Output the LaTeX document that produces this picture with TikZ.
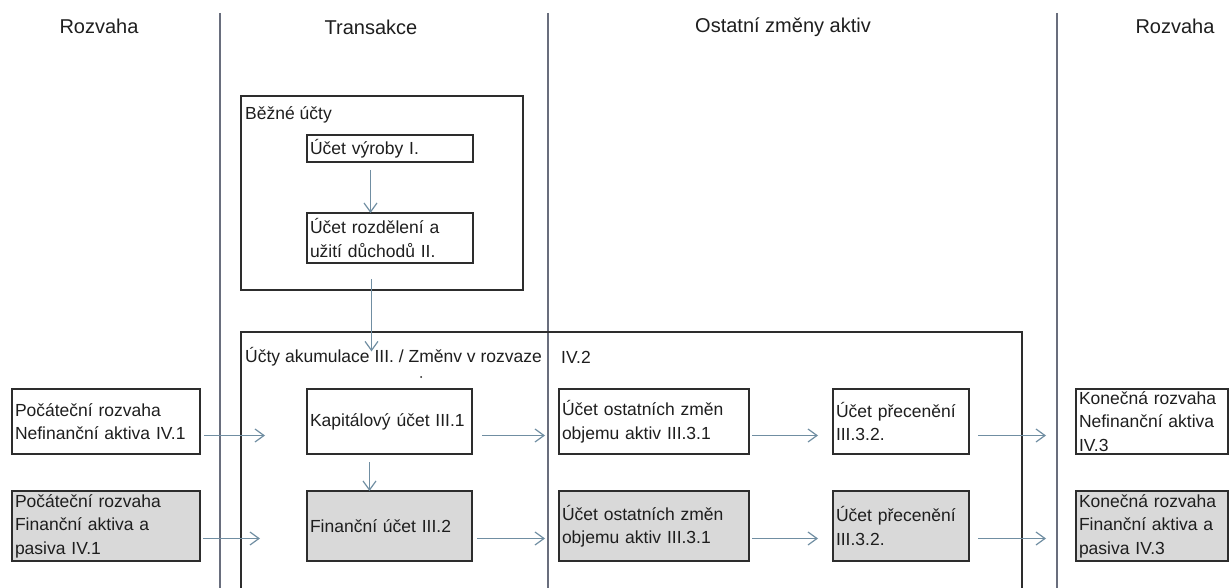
\documentclass[tikz,border=0pt]{standalone}
\usepackage{fontspec}
\setmainfont{Liberation Sans}
\usetikzlibrary{arrows.meta,positioning}
\definecolor{framegray}{RGB}{45,45,45}
\definecolor{fingray}{RGB}{217,217,217}
\definecolor{flowblue}{RGB}{112,142,162}
\definecolor{colgray}{RGB}{105,110,125}
\definecolor{textgray}{RGB}{30,30,30}
\newcommand{\boxfont}{\fontsize{17.5}{23.5}\selectfont}
\newcommand{\headfont}{\fontsize{20}{24}\selectfont}

\begin{document}
\begin{tikzpicture}[
    x=1pt, y=1pt,
    head/.style={font=\headfont, text=textgray, inner sep=0pt},
    frametitle/.style={font=\boxfont, text=textgray, inner sep=0pt, anchor=west},
    account/.style={rectangle, draw=framegray, line width=1.3pt, outer sep=0pt, font=\boxfont, text=textgray, align=left, inner xsep=3pt, inner ysep=0pt, minimum height=65pt},
    financial/.style={account, fill=fingray, minimum height=70pt},
    container/.style={rectangle, draw=framegray, line width=1.3pt, outer sep=0pt},
    flow/.style={-{Straight Barb[length=9pt,width=13pt]}, draw=flowblue, line width=1.2pt},
    column/.style={draw=colgray, line width=1.5pt}
]
\useasboundingbox (0,0) rectangle (1229,-588);

% Column headings
\node[head] (leftrozvaha) at (99,-26) {Rozvaha};
\node[head] (transakce) at (371,-27) {Transakce};
\node[head] (ostatni) at (783,-27) {Ostatní změny aktiv};
\node[head] (rightrozvaha) at (1175,-26) {Rozvaha};

% Column separators
\draw[column] (220,-13) -- (220,-588);
\draw[column] (548,-13) -- (548,-588);
\draw[column] (1057,-13) -- (1057,-588);

% Current accounts
\node[container, minimum width=282pt, minimum height=194pt] (bezne) at (382,-193) {};
\node[frametitle] (beznetitle) at (245,-115) {Běžné účty};
\node[account, text width=160pt, minimum height=27pt] (vyroby) at (390,-148.5) {Účet výroby I.};
\node[account, text width=160pt, minimum height=50pt, below=51pt of vyroby] (rozdeleni) {Účet rozdělení a\\užití důchodů II.};

% Accumulation accounts
\node[container, minimum width=781pt, minimum height=290pt, anchor=north west] (akumulace) at (241,-332) {};
\node[frametitle] (akumtitle) at (245,-357) {Účty akumulace III. / Změnv v rozvaze};
\node[frametitle] (akumiv) at (561,-357) {IV.2};
\fill[textgray] (421,-377) circle (1pt);

% Non-financial row
\node[account, text width=182pt] (pocNef) at (106,-421.5) {Počáteční rozvaha\\Nefinanční aktiva IV.1};
\node[account, text width=159pt, right=107pt of pocNef] (kapital) {Kapitálový účet III.1};
\node[account, text width=184pt, right=87pt of kapital] (ostNef) {Účet ostatních změn\\objemu aktiv III.3.1};
\node[account, text width=130pt, right=84pt of ostNef] (precNef) {Účet přecenění\\III.3.2.};
\node[account, text width=146pt, right=107pt of precNef] (konNef) {Konečná rozvaha\\Nefinanční aktiva\\IV.3};

% Financial row
\node[financial, text width=182pt, below=37pt of pocNef] (pocFin) {Počáteční rozvaha\\Finanční aktiva a\\pasiva IV.1};
\node[financial, text width=159pt, below=37pt of kapital] (financni) {Finanční účet III.2};
\node[financial, text width=184pt, below=37pt of ostNef] (ostFin) {Účet ostatních změn\\objemu aktiv III.3.1};
\node[financial, text width=130pt, below=37pt of precNef] (precFin) {Účet přecenění\\III.3.2.};
\node[financial, text width=146pt, below=37pt of konNef] (konFin) {Konečná rozvaha\\Finanční aktiva a\\pasiva IV.3};

% Vertical flows
\draw[flow, shorten <=8pt] ([xshift=-19.5pt]vyroby.south) -- ([xshift=-19.5pt]rozdeleni.north);
\draw[flow, shorten <=16pt, shorten >=-4pt] ([xshift=-18.5pt]rozdeleni.south) -- ([xshift=-18.5pt]rozdeleni.south |- akumtitle.north);
\draw[flow, shorten <=8pt] ([xshift=-20pt]kapital.south) -- ([xshift=-20pt]financni.north);

% Horizontal flows
\draw[flow, shorten <=4pt, shorten >=42pt] ([yshift=-14pt]pocNef.east) -- ([yshift=-14pt]kapital.west);
\draw[flow, shorten <=10pt, shorten >=14pt] ([yshift=-14pt]kapital.east) -- ([yshift=-14pt]ostNef.west);
\draw[flow, shorten <=3pt, shorten >=15pt] ([yshift=-14pt]ostNef.east) -- ([yshift=-14pt]precNef.west);
\draw[flow, shorten <=9pt, shorten >=30pt] ([yshift=-14pt]precNef.east) -- ([yshift=-14pt]konNef.west);

\draw[flow, shorten <=3pt, shorten >=47pt] ([yshift=-12.5pt]pocFin.east) -- ([yshift=-12.5pt]financni.west);
\draw[flow, shorten <=5pt, shorten >=14pt] ([yshift=-12.5pt]financni.east) -- ([yshift=-12.5pt]ostFin.west);
\draw[flow, shorten <=3pt, shorten >=15pt] ([yshift=-12.5pt]ostFin.east) -- ([yshift=-12.5pt]precFin.west);
\draw[flow, shorten <=9pt, shorten >=30pt] ([yshift=-12.5pt]precFin.east) -- ([yshift=-12.5pt]konFin.west);

\end{tikzpicture}
\end{document}
